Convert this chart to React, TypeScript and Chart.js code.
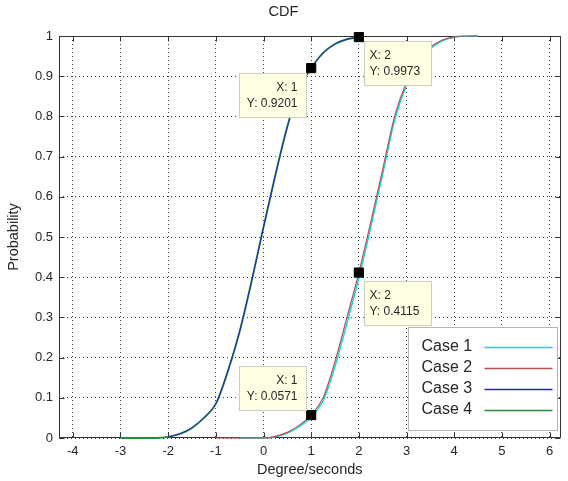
import React, { useEffect, useRef } from 'react';
import { Chart, registerables } from 'chart.js';

Chart.register(...registerables);

// ---------- data ----------
const chartTitle = 'CDF';
const xAxisLabel = 'Degree/seconds';
const yAxisLabel = 'Probability';

const xTicks = [-4, -3, -2, -1, 0, 1, 2, 3, 4, 5, 6];
const xTickLabels = ['-4', '-3', '-2', '-1', '0', '1', '2', '3', '4', '5', '6'];
const yTicks = [0, 0.1, 0.2, 0.3, 0.4, 0.5, 0.6, 0.7, 0.8, 0.9, 1];
const yTickLabels = ['0', '0.1', '0.2', '0.3', '0.4', '0.5', '0.6', '0.7', '0.8', '0.9', '1'];
const xMin = -4.29;
const xMax = 6.23;

const seriesNames = ['Case 1', 'Case 2', 'Case 3', 'Case 4'];

const xValues = [
  -3, -2.75, -2.5, -2.25, -2, -1.75, -1.5, -1.25, -1, -0.75, -0.5, -0.25,
  0, 0.25, 0.5, 0.75, 1, 1.25, 1.5, 1.75, 2, 2.25, 2.5, 2.75, 3, 3.25,
  3.5, 3.75, 4, 4.25, 4.5,
];

const case1 = [
  null, null, null, null, null, null, null, null, null, null, 0, 0,
  0, 0.003, 0.012, 0.028, 0.052, 0.092, 0.178, 0.285, 0.398, 0.524, 0.656, 0.79, 0.878, 0.935,
  0.969, 0.988, 0.997, 0.9995, 1,
];
const case2 = [
  null, null, null, null, null, null, null, null, 0, 0, 0, 0,
  0, 0.004, 0.014, 0.032, 0.0571, 0.1, 0.19, 0.3, 0.4115, 0.537, 0.668, 0.8, 0.885, 0.94,
  0.972, 0.99, 0.998, 1, 1,
];
const case3 = [
  null, null, null, null, 0.0027, 0.011, 0.026, 0.051, 0.086, 0.166, 0.266, 0.39,
  0.524, 0.654, 0.774, 0.869, 0.9195, 0.957, 0.98, 0.992, 0.9972, null, null, null, null, null,
  null, null, null, null, null,
];
const case4 = [
  0, 0, 0, 0, 0.0027, 0.01, 0.025, 0.05, 0.085, 0.165, 0.265, 0.39,
  0.525, 0.655, 0.775, 0.87, 0.9201, 0.958, 0.98, 0.992, 0.9973, null, null, null, null, null,
  null, null, null, null, null,
];

const tipX = [1, 2, 2, 1];
const tipY = [0.9201, 0.9973, 0.4115, 0.0571];

// ---------- styles ----------
const FONT = '"Liberation Sans", Arial, Helvetica, sans-serif';
const TEXT = '#262626';
const seriesColors = ['rgb(0,222,222)', 'rgb(185,80,80)', 'rgb(35,35,205)', 'rgb(40,140,60)'];
const seriesWidths = [1.4, 1.2, 1.0, 1.9];
const seriesOrder = [1, 0, 2, 3]; // lower = drawn on top
// placement of each data tip box relative to its marker (pixels)
const tipPlacement = [
  { dx: -72, dy: 5, align: 'right' },
  { dx: 5, dy: 4, align: 'left' },
  { dx: 5, dy: 8, align: 'left' },
  { dx: -72, dy: -49, align: 'right' },
];
const TIP_W = 67;
const TIP_H = 44;

const seriesValues = [case1, case2, case3, case4];

const decorPlugin = {
  id: 'decor',
  beforeDatasetsDraw(chart: any) {
    const { ctx, chartArea: a, scales } = chart;
    ctx.save();
    ctx.strokeStyle = '#333';
    ctx.lineWidth = 1;
    ctx.beginPath();
    const L = Math.round(a.left) + 0.5;
    const R = Math.round(a.right) - 0.5;
    const T = Math.round(a.top) + 0.5;
    const B = Math.round(a.bottom) - 0.5;
    ctx.rect(L, T, R - L, B - T);
    // inward ticks
    xTicks.forEach((v) => {
      const p = Math.round(scales.x.getPixelForValue(v)) + 0.5;
      ctx.moveTo(p, B);
      ctx.lineTo(p, B - 5);
      ctx.moveTo(p, T);
      ctx.lineTo(p, T + 5);
    });
    yTicks.forEach((v) => {
      const p = Math.round(scales.y.getPixelForValue(v)) + 0.5;
      ctx.moveTo(L, p);
      ctx.lineTo(L + 5, p);
      ctx.moveTo(R, p);
      ctx.lineTo(R - 5, p);
    });
    ctx.stroke();
    ctx.restore();
  },
  afterDraw(chart: any) {
    const { ctx, chartArea: a, scales } = chart;
    ctx.save();
    // data tips
    ctx.font = `12px ${FONT}`;
    ctx.textBaseline = 'middle';
    tipX.forEach((x, i) => {
      const mx = scales.x.getPixelForValue(x);
      const my = scales.y.getPixelForValue(tipY[i]);
      const pl = tipPlacement[i];
      const bx = Math.round(mx + pl.dx) + 0.5;
      const by = Math.round(my + pl.dy) + 0.5;
      ctx.fillStyle = 'rgb(255,255,228)';
      ctx.strokeStyle = 'rgb(205,205,190)';
      ctx.fillRect(bx, by, TIP_W, TIP_H);
      ctx.strokeRect(bx, by, TIP_W, TIP_H);
      ctx.fillStyle = TEXT;
      const l1 = `X: ${x}`;
      const l2 = `Y: ${tipY[i]}`;
      if (pl.align === 'right') {
        ctx.textAlign = 'right';
        ctx.fillText(l1, bx + TIP_W - 9, by + 14);
        ctx.fillText(l2, bx + TIP_W - 9, by + 30);
      } else {
        ctx.textAlign = 'left';
        ctx.fillText(l1, bx + 5, by + 14);
        ctx.fillText(l2, bx + 5, by + 30);
      }
    });
    // legend
    const lw = 149;
    const lh = 103;
    const lx = Math.round(a.right - 4 - lw) + 0.5;
    const ly = Math.round(a.bottom - 8 - lh) + 0.5;
    ctx.fillStyle = '#fff';
    ctx.strokeStyle = '#b4b4b4';
    ctx.lineWidth = 1;
    ctx.fillRect(lx, ly, lw, lh);
    ctx.strokeRect(lx, ly, lw, lh);
    ctx.font = `16px ${FONT}`;
    ctx.textAlign = 'left';
    ctx.textBaseline = 'middle';
    seriesNames.forEach((name, i) => {
      const cy = ly + 19 + i * 21;
      ctx.fillStyle = TEXT;
      ctx.fillText(name, lx + 13, cy);
      ctx.strokeStyle = chart.data.datasets[i].borderColor;
      ctx.lineWidth = 1.5;
      ctx.beginPath();
      ctx.moveTo(lx + 76, Math.round(cy) + 0.5);
      ctx.lineTo(lx + 144, Math.round(cy) + 0.5);
      ctx.stroke();
    });
    ctx.restore();
  },
};

export default function App() {
  const ref = useRef<HTMLCanvasElement>(null);
  useEffect(() => {
    const lineSets = seriesNames.map((name, i) => ({
      type: 'line' as const,
      label: name,
      data: xValues.map((x, j) => ({ x, y: seriesValues[i][j] })),
      borderColor: seriesColors[i],
      backgroundColor: seriesColors[i],
      borderWidth: seriesWidths[i],
      pointRadius: 0,
      cubicInterpolationMode: 'monotone' as const,
      spanGaps: false,
      clip: false as any,
      order: seriesOrder[i],
    }));
    const markerSet = {
      type: 'scatter' as const,
      label: 'tips',
      data: tipX.map((x, i) => ({ x, y: tipY[i] })),
      pointStyle: 'rect' as const,
      pointRadius: 6.5,
      pointBorderWidth: 1,
      backgroundColor: '#000',
      borderColor: '#000',
      showLine: false,
      clip: false as any,
      order: -1,
    };
    const chart = new Chart(ref.current!, {
      type: 'line',
      data: { datasets: [...lineSets, markerSet] as any },
      options: {
        responsive: false,
        animation: false,
        devicePixelRatio: 1,
        events: [],
        layout: { padding: { left: 0, right: 1, top: 0, bottom: 0 } },
        plugins: {
          legend: { display: false },
          tooltip: { enabled: false },
          title: {
            display: true,
            text: chartTitle,
            color: TEXT,
            font: { family: FONT, size: 14.5, weight: 'normal' },
            padding: { top: 3, bottom: 15.6 },
          },
        },
        scales: {
          x: {
            type: 'linear',
            min: xMin,
            max: xMax,
            afterBuildTicks: (s: any) => {
              s.ticks = xTicks.map((v) => ({ value: v }));
            },
            afterFit: (s: any) => {
              s.height = 43;
            },
            ticks: {
              autoSkip: false,
              maxRotation: 0,
              padding: 6,
              color: TEXT,
              font: { family: FONT, size: 13 },
              callback: (_v: any, i: number) => xTickLabels[i],
            },
            grid: { color: '#444', lineWidth: 1, drawTicks: false },
            border: { display: false, dash: [1, 3] },
            title: {
              display: true,
              text: xAxisLabel,
              color: TEXT,
              font: { family: FONT, size: 14.5 },
              padding: { top: 0, bottom: 2.3 },
            },
          },
          y: {
            type: 'linear',
            min: 0,
            max: 1,
            afterBuildTicks: (s: any) => {
              s.ticks = yTicks.map((v) => ({ value: v }));
            },
            afterFit: (s: any) => {
              s.width = 59;
            },
            ticks: {
              autoSkip: false,
              padding: 6,
              color: TEXT,
              font: { family: FONT, size: 13 },
              callback: (_v: any, i: number) => yTickLabels[i],
            },
            grid: { color: '#444', lineWidth: 1, drawTicks: false },
            border: { display: false, dash: [1, 3] },
            title: {
              display: true,
              text: yAxisLabel,
              color: TEXT,
              font: { family: FONT, size: 14.5 },
              padding: { top: 5.3, bottom: 0 },
            },
          },
        },
      },
      plugins: [decorPlugin],
    } as any);
    return () => chart.destroy();
  }, []);
  return (
    <div style={{ position: 'absolute', left: 0, top: 0, width: 568, height: 481, background: '#fff' }}>
      <canvas ref={ref} width={568} height={481} style={{ display: 'block', width: 568, height: 481 }} />
    </div>
  );
}
